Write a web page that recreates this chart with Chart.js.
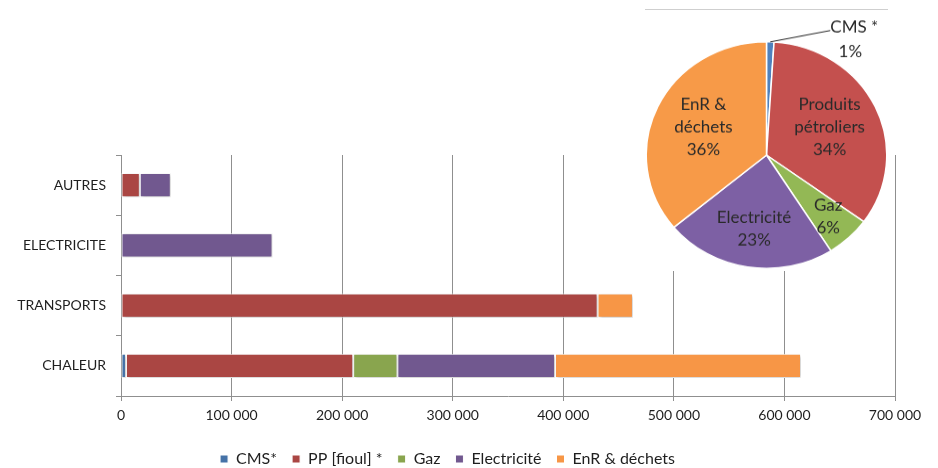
<!DOCTYPE html>
<html>
<head>
<meta charset="utf-8">
<script src="https://cdn.jsdelivr.net/npm/chart.js@4/dist/chart.umd.min.js"></script>
<style>
  html, body { margin: 0; padding: 0; background: #fff; }
  #wrap { position: relative; width: 938px; height: 468px; }
  #pieBox { position: absolute; left: 645px; top: 9px; width: 243px; height: 261px; background: #fff; border-top: 1px solid #cfcfcf; }
  #pieChart { position: absolute; left: 0; top: 0; }
</style>
</head>
<body>
<div id="wrap">
  <canvas id="barChart" width="938" height="468"></canvas>
  <div id="pieBox"><canvas id="pieChart" width="243" height="277" style="width:243px;height:261px"></canvas></div>
</div>
<script>
// bar chart data (units)
const categories = ['AUTRES', 'ELECTRICITE', 'TRANSPORTS', 'CHALEUR']
const cms   = [0, 0, 0, 4500]
const pp    = [17000, 0, 431000, 205500]
const gaz   = [0, 0, 0, 40000]
const elec  = [28000, 137000, 0, 142500]
const enr   = [0, 0, 32000, 222500]
const seriesNames = ['CMS*', 'PP [fioul] *', 'Gaz', 'Electricité', 'EnR & déchets']

// pie data (%)
const pieNames  = ['CMS *', 'Produits pétroliers', 'Gaz', 'Electricité', 'EnR & déchets']
const pieValues = [1, 34, 6, 23, 36]
const pieLines  = [['CMS *', '1%'], ['Produits', 'pétroliers', '34%'], ['Gaz', '6%'], ['Electricité', '23%'], ['EnR &', 'déchets', '36%']]

const barColors = ['#4572a7', '#aa4643', '#89a54e', '#71588f', '#f79646']
const pieColors = ['#4f81bd', '#c4504e', '#93b855', '#7d60a4', '#f79a48']
const FONT = 'Lato, "Open Sans", sans-serif'
const fmt = v => String(v).replace(/\B(?=(\d{3})+(?!\d))/g, ' ')

const shadow = {
  id: 'shadow',
  beforeDatasetsDraw(chart) {
    const c = chart.ctx
    c.save()
    c.shadowColor = 'rgba(0,0,0,0.3)'
    c.shadowBlur = 3
    c.shadowOffsetX = 1
    c.shadowOffsetY = 1
  },
  afterDatasetsDraw(chart) { chart.ctx.restore() }
}

const vals = [cms, pp, gaz, elec, enr]
new Chart(document.getElementById('barChart'), {
  type: 'bar',
  data: {
    labels: categories,
    datasets: vals.map((d, i) => ({
      label: seriesNames[i], data: d, backgroundColor: barColors[i],
      borderColor: '#fff', borderWidth: 1, borderSkipped: false,
      barPercentage: 0.4, categoryPercentage: 1
    }))
  },
  options: {
    indexAxis: 'y',
    responsive: false, animation: false,
    layout: { padding: { top: 155, right: 43, left: 0, bottom: -9 } },
    plugins: {
      tooltip: { enabled: false },
      legend: {
        position: 'bottom',
        labels: { boxWidth: 8, boxHeight: 8, padding: 15, color: '#1f1f1f', font: { family: FONT, size: 16 } }
      }
    },
    scales: {
      x: {
        stacked: true, min: 0, max: 700000,
        ticks: { stepSize: 100000, callback: v => fmt(v), color: '#1f1f1f', padding: 6, font: { family: FONT, size: 14 } },
        grid: { color: '#8f8f8f', tickLength: 5 },
        border: { color: '#8f8f8f' },
        afterFit: s => { s.height = 40 }
      },
      y: {
        stacked: true,
        ticks: { color: '#1f1f1f', padding: 10, font: { family: FONT, size: 14 } },
        grid: { drawOnChartArea: false, color: '#8f8f8f', tickLength: 5 },
        border: { color: '#8f8f8f' },
        afterFit: s => { s.width = 121 }
      }
    }
  },
  plugins: [shadow]
})

const radial = [0, 0.58, 0.75, 0.66, 0.58]
const pieText = {
  id: 'pieText',
  afterDraw(chart) {
    const c = chart.ctx
    const arcs = chart.getDatasetMeta(0).data
    c.save()
    c.font = '17px ' + FONT
    c.fillStyle = '#2a2a2a'
    c.textAlign = 'center'
    c.textBaseline = 'middle'
    arcs.forEach((a, i) => {
      const lines = pieLines[i]
      const mid = (a.startAngle + a.endAngle) / 2
      if (i === 0) {
        const ox = a.x + Math.cos(mid) * a.outerRadius
        const oy = a.y + Math.sin(mid) * a.outerRadius
        c.strokeStyle = '#222'
        c.lineWidth = 1
        c.beginPath(); c.moveTo(ox, oy); c.lineTo(ox + 60, oy - 12); c.stroke()
        c.fillText(lines[0], ox + 84, oy - 15)
        c.fillText(lines[1], ox + 80, oy + 11)
        return
      }
      const r = a.outerRadius * radial[i]
      const cx = a.x + Math.cos(mid) * r
      const cy = a.y + Math.sin(mid) * r
      const lh = 24
      lines.forEach((t, k) => c.fillText(t, cx, cy + (k - (lines.length - 1) / 2) * lh))
    })
    c.restore()
  }
}

new Chart(document.getElementById('pieChart'), {
  type: 'pie',
  data: { labels: pieNames, datasets: [{ data: pieValues, backgroundColor: pieColors, borderColor: '#fff', borderWidth: 1.5 }] },
  options: {
    responsive: false, animation: false,
    layout: { padding: { top: 33, bottom: 2, left: 0, right: 0 } },
    plugins: { legend: { display: false }, tooltip: { enabled: false } }
  },
  plugins: [pieText]
})
</script>
</body>
</html>
